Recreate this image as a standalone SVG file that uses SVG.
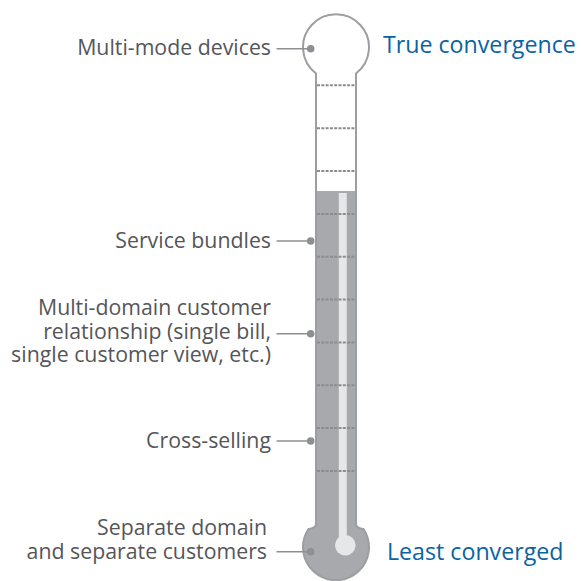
<svg xmlns="http://www.w3.org/2000/svg" width="581" height="581" viewBox="0 0 581 581">
<defs>
<style>
.lbl{font-family:"Open Sans","Noto Sans",sans-serif;font-size:21.3px;fill:#555658;text-anchor:end}
.end{font-family:"Open Sans","Noto Sans",sans-serif;font-size:23.2px;fill:#0a64a0}
.conn{stroke:#8d8f92;stroke-width:1.6;fill:none}
.dot{fill:#8d8f92}
.tick{stroke:#8a8c8f;stroke-width:2;stroke-dasharray:3 1.3;fill:none}
</style>
</defs>
<rect width="581" height="581" fill="#ffffff"/>
<g id="thermometer">
<path d="M316,73.5 A33,33 0 1,1 356,73.5 L356,524 Q356,528 363.5,529 A33,33 0 1,1 308.5,529 Q316,528 316,524 Z" fill="#ffffff"/>
<path d="M316,191 L356,191 L356,524 Q356,528 363.5,529 A33,33 0 1,1 308.5,529 Q316,528 316,524 Z" fill="#a7a9ac"/>
<rect x="338.8" y="193" width="8" height="350" fill="#e6e7e8"/>
<circle cx="345.3" cy="545.3" r="10.3" fill="#e6e7e8"/>
<g id="ticks">
<line class="tick" x1="317" y1="85.3" x2="355" y2="85.3"/>
<line class="tick" x1="317" y1="128.2" x2="355" y2="128.2"/>
<line class="tick" x1="317" y1="171" x2="355" y2="171"/>
<line class="tick" x1="317" y1="213.9" x2="355" y2="213.9"/>
<line class="tick" x1="317" y1="256.7" x2="355" y2="256.7"/>
<line class="tick" x1="317" y1="299.6" x2="355" y2="299.6"/>
<line class="tick" x1="317" y1="342.4" x2="355" y2="342.4"/>
<line class="tick" x1="317" y1="385.3" x2="355" y2="385.3"/>
<line class="tick" x1="317" y1="428.1" x2="355" y2="428.1"/>
<line class="tick" x1="317" y1="471" x2="355" y2="471"/>
</g>
<path d="M316,73.5 A33,33 0 1,1 356,73.5 L356,524 Q356,528 363.5,529 A33,33 0 1,1 308.5,529 Q316,528 316,524 Z" fill="none" stroke="#9c9ea1" stroke-width="2"/>
</g>
<g id="connectors">
<line class="conn" x1="276.5" y1="48.7" x2="310.7" y2="48.7"/>
<line class="conn" x1="276.5" y1="241" x2="310.7" y2="241"/>
<line class="conn" x1="276.5" y1="333.7" x2="310.7" y2="333.7"/>
<line class="conn" x1="276.5" y1="441" x2="310.7" y2="441"/>
<line class="conn" x1="276.5" y1="551.7" x2="310.7" y2="551.7"/>
</g>
<g id="multi-mode">
<circle class="dot" cx="310.7" cy="48.7" r="3.8"/>
<text class="lbl" x="271" y="55">Multi-mode devices</text>
</g>
<g id="service-bundles">
<circle class="dot" cx="310.7" cy="241" r="3.8"/>
<text class="lbl" x="271" y="247.5">Service bundles</text>
</g>
<g id="multi-domain">
<circle class="dot" cx="310.7" cy="333.7" r="3.8"/>
<text class="lbl" x="271" y="315">Multi-domain customer</text>
<text class="lbl" x="271" y="338.5">relationship (single bill,</text>
<text class="lbl" x="271" y="362">single customer view, etc.)</text>
</g>
<g id="cross-selling">
<circle class="dot" cx="310.7" cy="441" r="3.8"/>
<text class="lbl" x="271" y="448">Cross-selling</text>
</g>
<g id="separate">
<circle class="dot" cx="310.7" cy="551.7" r="3.8"/>
<text class="lbl" x="267" y="535">Separate domain</text>
<text class="lbl" x="267" y="558.5">and separate customers</text>
</g>
<g id="true-convergence">
<text class="end" x="383" y="53.3">True convergence</text>
</g>
<g id="least-converged">
<text class="end" x="387" y="560">Least converged</text>
</g>
</svg>
